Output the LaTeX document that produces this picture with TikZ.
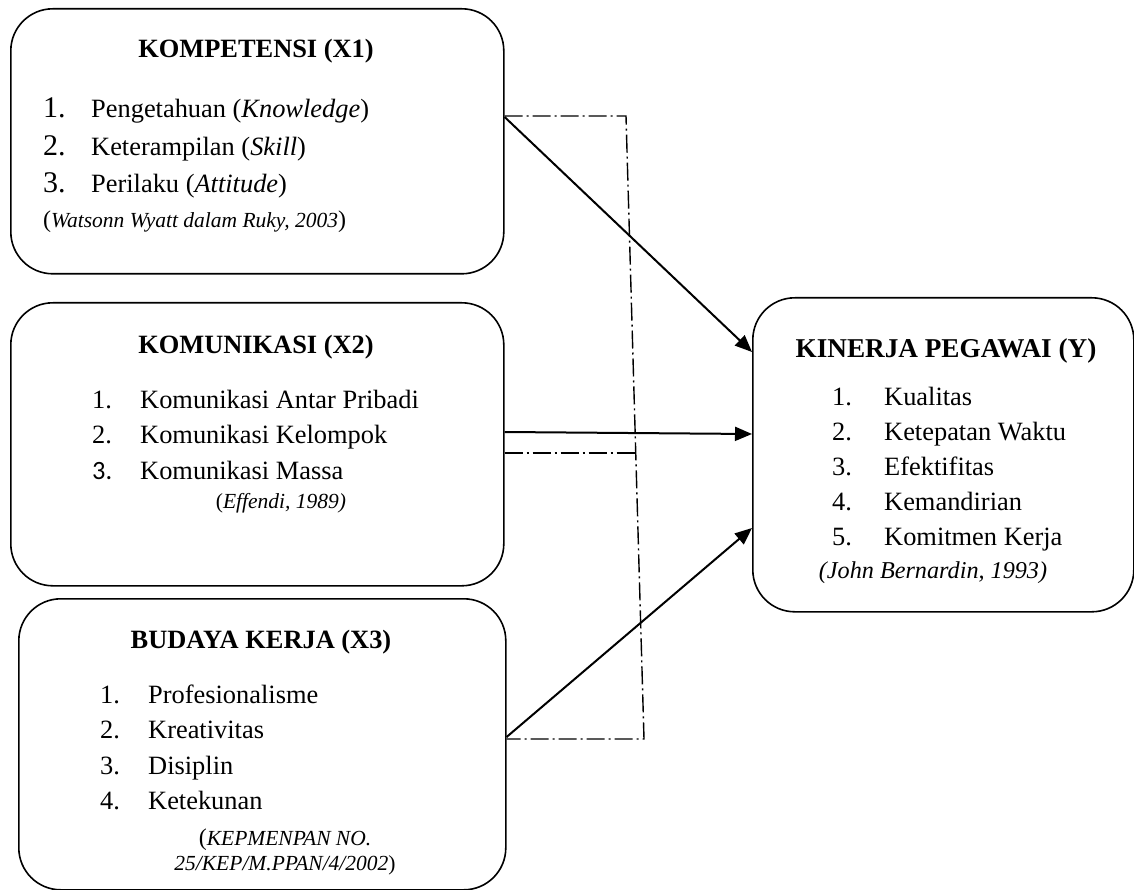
\documentclass[tikz,border=0pt]{standalone}
\usepackage{fontspec}
\setmainfont{Liberation Serif}
\newfontfamily\calib{Carlito}
\usetikzlibrary{arrows.meta,calc}
\begin{document}
\begin{tikzpicture}[x=1pt,y=-1pt,
  box/.style={draw, line width=1.6pt, rounded corners=42pt, anchor=north west, inner sep=0pt},
  ttl/.style={font=\fontsize{26.4}{30}\selectfont\bfseries, anchor=base, inner sep=0pt},
  itm/.style={font=\fontsize{26.4}{30}\selectfont, anchor=base west, inner sep=0pt},
  bignum/.style={font=\fontsize{30}{34}\selectfont, anchor=base west, inner sep=0pt},
  cit/.style={font=\fontsize{21.5}{25}\selectfont\itshape, anchor=base, inner sep=0pt},
  arr/.style={line width=2pt, -{Triangle[length=17pt,width=14pt]}},
  dd/.style={line width=1.4pt, dash pattern=on 18pt off 4pt on 2pt off 4pt}]
\useasboundingbox (0,0) rectangle (1134,890);

% boxes
\node[box, minimum width=493pt, minimum height=265pt] (x1) at (10,8) {};
\node[box, minimum width=493pt, minimum height=283pt] (x2) at (10,302) {};
\node[box, minimum width=487pt, minimum height=291pt] (x3) at (18,598) {};
\node[box, minimum width=381pt, minimum height=314pt] (y) at (752,297) {};

% X1 texts
\node[ttl] (x1t) at (256,58) {KOMPETENSI (X1)};
\node[bignum] (x1n1) at (43,118) {1.};
\node[itm] (x1i1) at (91,118) {Pengetahuan (\textit{Knowledge})};
\node[bignum] (x1n2) at (43,156) {2.};
\node[itm] (x1i2) at (91,156) {Keterampilan (\textit{Skill})};
\node[bignum] (x1n3) at (43,193) {3.};
\node[itm] (x1i3) at (91,193) {Perilaku (\textit{Attitude})};
\node[cit, anchor=base west] (x1c) at (43,228) {{\upshape\fontsize{24}{26}\selectfont(}Watsonn Wyatt dalam Ruky, 2003{\upshape\fontsize{24}{26}\selectfont)}};

% X2 texts
\node[ttl] (x2t) at (256,353) {KOMUNIKASI (X2)};
\node[itm] (x2n1) at (92,408) {1.};
\node[itm] (x2i1) at (140,408) {Komunikasi Antar Pribadi};
\node[itm] (x2n2) at (92,443) {2.};
\node[itm] (x2i2) at (140,443) {Komunikasi Kelompok};
\node[itm, font=\fontsize{26.4}{30}\selectfont\calib] (x2n3) at (92,479) {3.};
\node[itm] (x2i3) at (140,479) {Komunikasi Massa};
\node[cit] (x2c) at (281,508) {{\upshape(}Effendi, 1989)};

% X3 texts
\node[ttl] (x3t) at (261,648) {BUDAYA KERJA (X3)};
\node[itm] (x3n1) at (100,703) {1.};
\node[itm] (x3i1) at (148,703) {Profesionalisme};
\node[itm] (x3n2) at (100,738) {2.};
\node[itm] (x3i2) at (148,738) {Kreativitas};
\node[itm] (x3n3) at (100,774) {3.};
\node[itm] (x3i3) at (148,774) {Disiplin};
\node[itm] (x3n4) at (100,809) {4.};
\node[itm] (x3i4) at (148,809) {Ketekunan};
\node[cit] (x3c1) at (285,845) {{\upshape\fontsize{24}{26}\selectfont(}KEPMENPAN NO.};
\node[cit] (x3c2) at (285,870) {25/KEP/M.PPAN/4/2002{\upshape)}};

% Y texts
\node[ttl, font=\fontsize{27.2}{30}\selectfont\bfseries] (yt) at (946,357) {KINERJA PEGAWAI (Y)};
\node[itm] (yn1) at (832,405) {1.};
\node[itm] (yi1) at (884,405) {Kualitas};
\node[itm] (yn2) at (832,440) {2.};
\node[itm] (yi2) at (884,440) {Ketepatan Waktu};
\node[itm] (yn3) at (832,475) {3.};
\node[itm] (yi3) at (884,475) {Efektifitas};
\node[itm] (yn4) at (832,510) {4.};
\node[itm] (yi4) at (884,510) {Kemandirian};
\node[itm] (yn5) at (832,545) {5.};
\node[itm] (yi5) at (884,545) {Komitmen Kerja};
\node[cit, font=\fontsize{24.2}{27}\selectfont\itshape] (yc) at (933,578) {(John Bernardin, 1993)};

% dash-dot connectors
\coordinate (d1) at (626,116);
\coordinate (d2) at (644,739);
\coordinate (d3) at (636,453);
\draw[dd] ($(x1.north east)+(0,108)$) -- (d1) -- (d2) -- ($(x3.north east)+(0,141)$);
\draw[dd] ($(x2.north east)+(0,151)$) -- (d3);

% arrows
\draw[arr] ($(x1.north east)+(0,109)$) -- ($(y.north west)+(0,55)$);
\draw[arr] ($(x2.north east)+(0,130)$) -- ($(y.north west)+(0,137)$);
\draw[arr] ($(x3.north east)+(0,139)$) -- ($(y.north west)+(0,231)$);
\end{tikzpicture}
\end{document}
